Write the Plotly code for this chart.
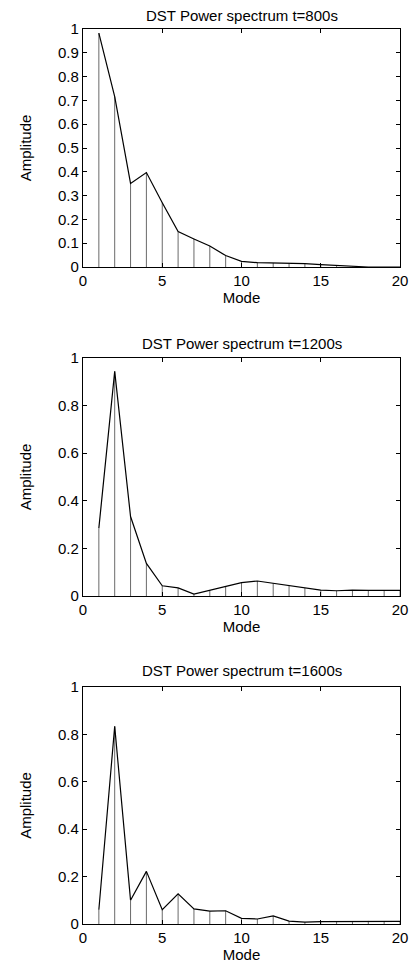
import plotly.graph_objects as go

modes = list(range(1, 21))
amp_800 = [0.983, 0.716, 0.351, 0.397, 0.270, 0.149, 0.118, 0.088, 0.048, 0.024,
           0.018, 0.017, 0.014, 0.014, 0.010, 0.007, 0.001, 0.0, 0.0, 0.0]
amp_1200 = [0.285, 0.944, 0.334, 0.137, 0.043, 0.034, 0.008, 0.025, 0.042, 0.056,
            0.063, 0.053, 0.042, 0.034, 0.025, 0.022, 0.025, 0.024, 0.024, 0.024]
amp_1600 = [0.060, 0.834, 0.100, 0.222, 0.060, 0.127, 0.064, 0.054, 0.056, 0.024,
            0.021, 0.034, 0.012, 0.008, 0.010, 0.010, 0.010, 0.013, 0.012, 0.011]
titles = ["DST Power spectrum t=800s", "DST Power spectrum t=1200s", "DST Power spectrum t=1600s"]
x_ticks = [0, 5, 10, 15, 20]
y_dticks = [0.1, 0.2, 0.2]

series = [amp_800, amp_1200, amp_1600]
W, H = 414, 965
# plot areas in pixels (top, bottom)
areas = [(29, 267), (358, 596), (687, 924)]
title_y = [15, 343, 670]
x_left, x_right = 83, 400
FONT = "Liberation Sans, Arial, Helvetica, sans-serif"
FS = 15

fig = go.Figure()
for i, (amp, (top, bot)) in enumerate(zip(series, areas)):
    xa = "x" if i == 0 else f"x{i+1}"
    ya = "y" if i == 0 else f"y{i+1}"
    fig.add_trace(go.Scatter(
        x=modes, y=amp, mode="lines", xaxis=xa, yaxis=ya,
        line=dict(color="black", width=1.2),
        error_y=dict(type="data", symmetric=False, array=[0] * len(amp),
                     arrayminus=amp, width=0, thickness=0.8, color="#444444"),
        showlegend=False, hoverinfo="x+y"))
    dom_y = [1 - bot / H, 1 - top / H]
    axis_common = dict(showline=True, linecolor="black", linewidth=1.3, mirror="ticks",
                       ticks="inside", ticklen=4, tickcolor="black", showgrid=False,
                       zeroline=False, automargin=False,
                       tickfont=dict(family=FONT, size=FS, color="black"))
    fig.layout[f"xaxis{'' if i == 0 else i+1}"] = dict(
        domain=[x_left / W, x_right / W], range=[0, 20], tickvals=x_ticks,
        anchor=ya, title=dict(text="Mode", font=dict(family=FONT, size=FS, color="black"), standoff=0),
        **axis_common)
    fig.layout[f"yaxis{'' if i == 0 else i+1}"] = dict(
        domain=dom_y, range=[0, 1], dtick=y_dticks[i], tick0=0, anchor=xa,
        tickformat="~g",
        title=dict(text="Amplitude", font=dict(family=FONT, size=FS, color="black"), standoff=22),
        **axis_common)
    fig.add_annotation(text=titles[i], x=(x_left + x_right) / 2 / W, y=1 - title_y[i] / H,
                       xref="paper", yref="paper", showarrow=False, xanchor="center", yanchor="middle",
                       font=dict(family=FONT, size=FS, color="black"))

fig.update_layout(width=W, height=H, margin=dict(l=0, r=0, t=0, b=0),
                  paper_bgcolor="white", plot_bgcolor="white")
fig.write_html("out.html", config={"displayModeBar": False},
               post_script="document.body.style.margin='0';document.body.style.padding='0';")
